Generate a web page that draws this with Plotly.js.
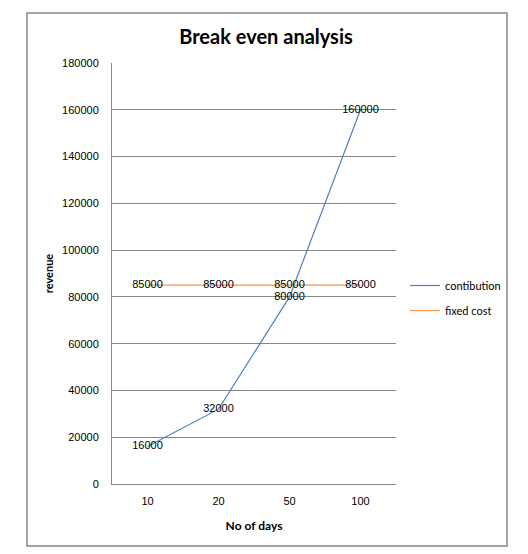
<!DOCTYPE html>
<html><head><meta charset="utf-8">
<script src="https://cdn.plot.ly/plotly-3.0.1.min.js"></script>
<style>body{margin:0;background:#fff}#c{width:528px;height:554px}</style>
</head><body><div id="c"></div>
<script>
const days = ['10', '20', '50', '100'];
const contribution = [16000, 32000, 80000, 160000];
const fixedCost = [85000, 85000, 85000, 85000];
const yTicks = [0, 20000, 40000, 60000, 80000, 100000, 120000, 140000, 160000, 180000];

const fnt = 'Liberation Sans, Arial, sans-serif';
const L = 112, R = 396, T = 63, B = 484, W = 528, H = 554;
const px = v => (v - L) / (R - L);
const py = v => (B - v) / (B - T);

const traces = [
  {x: days, y: contribution, name: 'contibution', type: 'scatter', mode: 'lines+text',
   legendgroup: 'a',
   line: {color: '#4F81BD', width: 1.2},
   text: contribution.map(String), textposition: 'middle center',
   textfont: {family: fnt, size: 11, color: '#000'}},
  {x: days, y: fixedCost, name: 'fixed cost', type: 'scatter', mode: 'lines+text',
   legendgroup: 'b',
   line: {color: '#F79646', width: 1.2},
   text: fixedCost.map(String), textposition: 'middle center',
   textfont: {family: fnt, size: 11, color: '#000'}}
];

const layout = {
  width: W, height: H,
  margin: {l: L, r: W - R, t: T, b: H - B},
  paper_bgcolor: '#fff', plot_bgcolor: '#fff',
  showlegend: true,
  title: {text: '<b>Break even analysis</b>', font: {family: 'Lato, Carlito, sans-serif', size: 20, color: '#000'},
          x: 266 / W, xanchor: 'center', xref: 'container', y: 1 - 37 / H, yanchor: 'middle', yref: 'container'},
  xaxis: {type: 'category', range: [-0.5, 3.5], showgrid: false, showline: true, linecolor: '#868686', linewidth: 1,
          ticks: '', tickfont: {family: fnt, size: 11, color: '#000'}, ticklabelstandoff: 7,
          title: {text: '<b>No of days</b>', font: {family: 'Lato, sans-serif', size: 12, color: '#000'}, standoff: 15},
          zeroline: false, fixedrange: true},
  yaxis: {range: [0, 180000], tickvals: yTicks, ticktext: yTicks.map(String), showgrid: true, gridcolor: '#868686', gridwidth: 1,
          showline: true, linecolor: '#868686', linewidth: 1, zeroline: false, ticks: '',
          tickfont: {family: fnt, size: 11, color: '#000'}, ticklabelstandoff: 10,
          title: {text: '<b>revenue</b>', font: {family: 'Lato, sans-serif', size: 11, color: '#000'}, standoff: 6},
          fixedrange: true},
  legend: {x: px(405), xanchor: 'left', y: py(298), yanchor: 'middle', bgcolor: 'rgba(0,0,0,0)',
           traceorder: 'grouped', tracegroupgap: 6,
           font: {family: 'Lato, sans-serif', size: 11, color: '#000'}, itemwidth: 30},
  shapes: [{type: 'rect', xref: 'paper', yref: 'paper', x0: px(27), x1: px(507), y0: py(546), y1: py(13),
            line: {color: '#868686', width: 1.5}, fillcolor: 'rgba(0,0,0,0)', layer: 'below'}]
};

Plotly.newPlot('c', traces, layout, {displayModeBar: false, staticPlot: true});
</script></body></html>
